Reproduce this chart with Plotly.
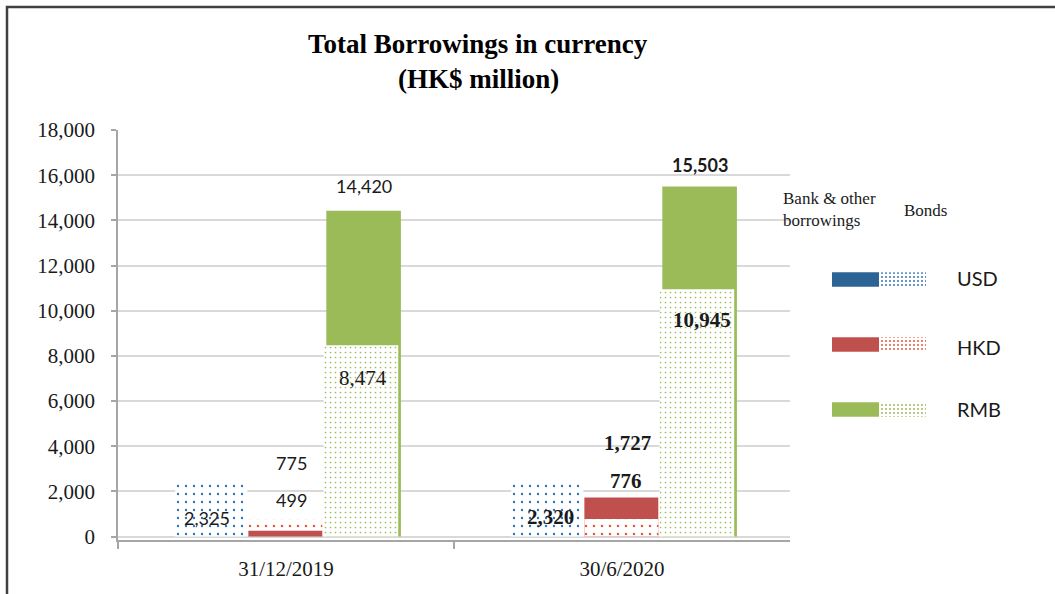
import plotly.graph_objects as go

# ---------------- data ----------------
dates = ["31/12/2019", "30/6/2020"]
currencies = ["USD", "HKD", "RMB"]

usd_bank = [0, 0]
usd_bonds = [2325, 2320]
hkd_bank = [276, 951]
hkd_bonds = [499, 776]
rmb_bank = [5946, 4558]
rmb_bonds = [8474, 10945]

# whether the bonds part sits at the bottom of the bar (per date)
usd_bonds_below = [True, True]
hkd_bonds_below = [False, True]
rmb_bonds_below = [True, True]

y_ticks = [0, 2000, 4000, 6000, 8000, 10000, 12000, 14000, 16000, 18000]

# ---------------- styles ----------------
W, H = 1055, 594
solid_colors = {"USD": "#2c6496", "HKD": "#c0504d", "RMB": "#9bbb59"}
dot_colors = {"USD": "#2e75b6", "HKD": "#e8583a", "RMB": "#9bbb59"}
dot_size = {"USD": 8, "HKD": 8, "RMB": 5}
dot_solid = {"USD": 0.07, "HKD": 0.08, "RMB": 0.09}
solid_offset = {"USD": -0.33, "HKD": -0.112, "RMB": 0.12}
dot_offset = {"USD": -0.33, "HKD": -0.112, "RMB": 0.112}
bar_width = {"USD": 0.215, "HKD": 0.22, "RMB": 0.222}

SERIF = "Liberation Serif"
SANS = "Lato"
TXT = "#1a1a1a"


def px_x(p):
    return p / W


def px_y(p):
    return 1 - p / H


series = {
    "USD": (usd_bank, usd_bonds, usd_bonds_below),
    "HKD": (hkd_bank, hkd_bonds, hkd_bonds_below),
    "RMB": (rmb_bank, rmb_bonds, rmb_bonds_below),
}

fig = go.Figure()

for c in currencies:
    bank, bonds, below = series[c]
    total = [b + d for b, d in zip(bank, bonds)]
    solid_y = []
    dot_base = []
    for b, d, t, bl in zip(bank, bonds, total, below):
        if bl:
            solid_y.append(t if b > 0 else 0)
            dot_base.append(0)
        else:
            solid_y.append(b)
            dot_base.append(b)
    fig.add_trace(go.Bar(
        x=dates, y=solid_y, base=[0, 0],
        offset=solid_offset[c], width=bar_width[c],
        marker=dict(color=solid_colors[c], line=dict(width=0)),
        name=c + " bank", showlegend=False, hoverinfo="skip",
    ))
    fig.add_trace(go.Bar(
        x=dates, y=bonds, base=dot_base,
        offset=dot_offset[c], width=bar_width[c],
        marker=dict(color="white", line=dict(width=0),
                    pattern=dict(shape=".", fgcolor=dot_colors[c], bgcolor="white",
                                 size=dot_size[c], solidity=dot_solid[c], fillmode="replace")),
        name=c + " bonds", showlegend=False, hoverinfo="skip",
    ))

# ---------------- legend swatches (own small axes) ----------------
leg_cats = ["RMB", "HKD", "USD"]
for c in leg_cats:
    fig.add_trace(go.Bar(
        y=[c], x=[1], base=[0], orientation="h", width=0.22,
        marker=dict(color=solid_colors[c], line=dict(width=0)),
        xaxis="x2", yaxis="y2", showlegend=False, hoverinfo="skip",
    ))
    fig.add_trace(go.Bar(
        y=[c], x=[1], base=[1], orientation="h", width=0.22,
        marker=dict(color="white", line=dict(width=0),
                    pattern=dict(shape=".", fgcolor=dot_colors[c], bgcolor="white",
                                 size=4, solidity=0.2, fillmode="replace")),
        xaxis="x2", yaxis="y2", showlegend=False, hoverinfo="skip",
    ))

# ---------------- labels ----------------
hkd_total = [b + d for b, d in zip(hkd_bank, hkd_bonds)]
rmb_total = [b + d for b, d in zip(rmb_bank, rmb_bonds)]

labels = [
    # (date index, value, xshift, yshift, font family, bold)
    (0, usd_bonds[0], -79.5, -34, SANS, False),
    (0, hkd_total[0], 5.5, 56, SANS, False),
    (0, hkd_bonds[0], 5.5, 25, SANS, False),
    (0, rmb_total[0], 77.5, 25, SANS, False),
    (0, rmb_bonds[0], 76.5, -33, SERIF, False),
    (1, usd_bonds[1], -71.5, -33, SERIF, True),
    (1, hkd_total[1], 5.5, 55, SERIF, True),
    (1, hkd_bonds[1], 3.5, 38, SERIF, True),
    (1, rmb_total[1], 77.5, 21, SANS, True),
    (1, rmb_bonds[1], 79.5, -31, SERIF, True),
]

annotations = []
for i, v, xs, ys, fam, bold in labels:
    txt = f"{v:,}"
    if bold:
        txt = "<b>" + txt + "</b>"
    annotations.append(dict(
        x=dates[i], y=v, xref="x", yref="y", xshift=xs, yshift=ys,
        text=txt, showarrow=False, xanchor="center", yanchor="middle",
        font=dict(family=fam, size=18 if fam == SANS else 21, color=TXT),
    ))

# legend texts
annotations.append(dict(
    x=px_x(781), y=px_y(187), xref="paper", yref="paper", xanchor="left", yanchor="top",
    align="left", showarrow=False, text="Bank &amp; other<br>borrowings",
    font=dict(family=SERIF, size=17, color=TXT),
))
annotations.append(dict(
    x=px_x(902), y=px_y(210), xref="paper", yref="paper", xanchor="left", yanchor="middle",
    showarrow=False, text="Bonds", font=dict(family=SERIF, size=17, color=TXT),
))
for c, yy in zip(["USD", "HKD", "RMB"], [278, 347, 409]):
    annotations.append(dict(
        x=px_x(955), y=px_y(yy), xref="paper", yref="paper", xanchor="left", yanchor="middle",
        showarrow=False, text=c, font=dict(family=SANS, size=20, color=TXT),
    ))

# title
annotations.append(dict(
    x=px_x(478), y=px_y(44), xref="paper", yref="paper", xanchor="center", yanchor="middle",
    showarrow=False, text="<b>Total Borrowings in currency</b>",
    font=dict(family=SERIF, size=27, color="#000000"),
))
annotations.append(dict(
    x=px_x(478), y=px_y(79), xref="paper", yref="paper", xanchor="center", yanchor="middle",
    showarrow=False, text="<b>(HK$ million)</b>",
    font=dict(family=SERIF, size=27, color="#000000"),
))

shapes = [dict(
    type="rect", xref="paper", yref="paper",
    x0=px_x(7), x1=1.05, y0=-0.05, y1=px_y(7),
    line=dict(color="#404040", width=2.5), fillcolor="rgba(0,0,0,0)", layer="above",
)]

fig.update_layout(
    width=W, height=H,
    margin=dict(l=0, r=0, t=0, b=0, pad=0, autoexpand=False),
    paper_bgcolor="white", plot_bgcolor="white",
    barmode="overlay",
    showlegend=False,
    annotations=annotations,
    shapes=shapes,
    xaxis=dict(
        domain=[px_x(118), px_x(790)], type="category",
        categoryorder="array", categoryarray=dates, range=[-0.5, 1.5],
        showline=True, linecolor="#a6a6a6", linewidth=1.5,
        ticks="outside", tickson="boundaries", ticklen=7, tickcolor="#a6a6a6", tickwidth=1.5,
        ticklabelstandoff=9,
        tickfont=dict(family=SERIF, size=21, color=TXT),
        showgrid=False, zeroline=False, fixedrange=True, automargin=False,
    ),
    yaxis=dict(
        domain=[px_y(540), px_y(130)], range=[-150, 18000],
        tickvals=y_ticks, tickformat=",",
        tickfont=dict(family=SERIF, size=21, color=TXT),
        showline=True, linecolor="#a6a6a6", linewidth=1.5,
        ticks="outside", ticklen=5, tickcolor="#a6a6a6", tickwidth=1.5,
        ticklabelstandoff=12,
        showgrid=True, gridcolor="#d9d9d9", gridwidth=1.5,
        zeroline=False, fixedrange=True, automargin=False,
    ),
    xaxis2=dict(
        domain=[px_x(832), px_x(926)], range=[0, 2], anchor="y2",
        visible=False, fixedrange=True,
    ),
    yaxis2=dict(
        domain=[px_y(442), px_y(247)], type="category",
        categoryorder="array", categoryarray=leg_cats, range=[-0.5, 2.5], anchor="x2",
        visible=False, fixedrange=True,
    ),
)

fig.write_html("out.html")
